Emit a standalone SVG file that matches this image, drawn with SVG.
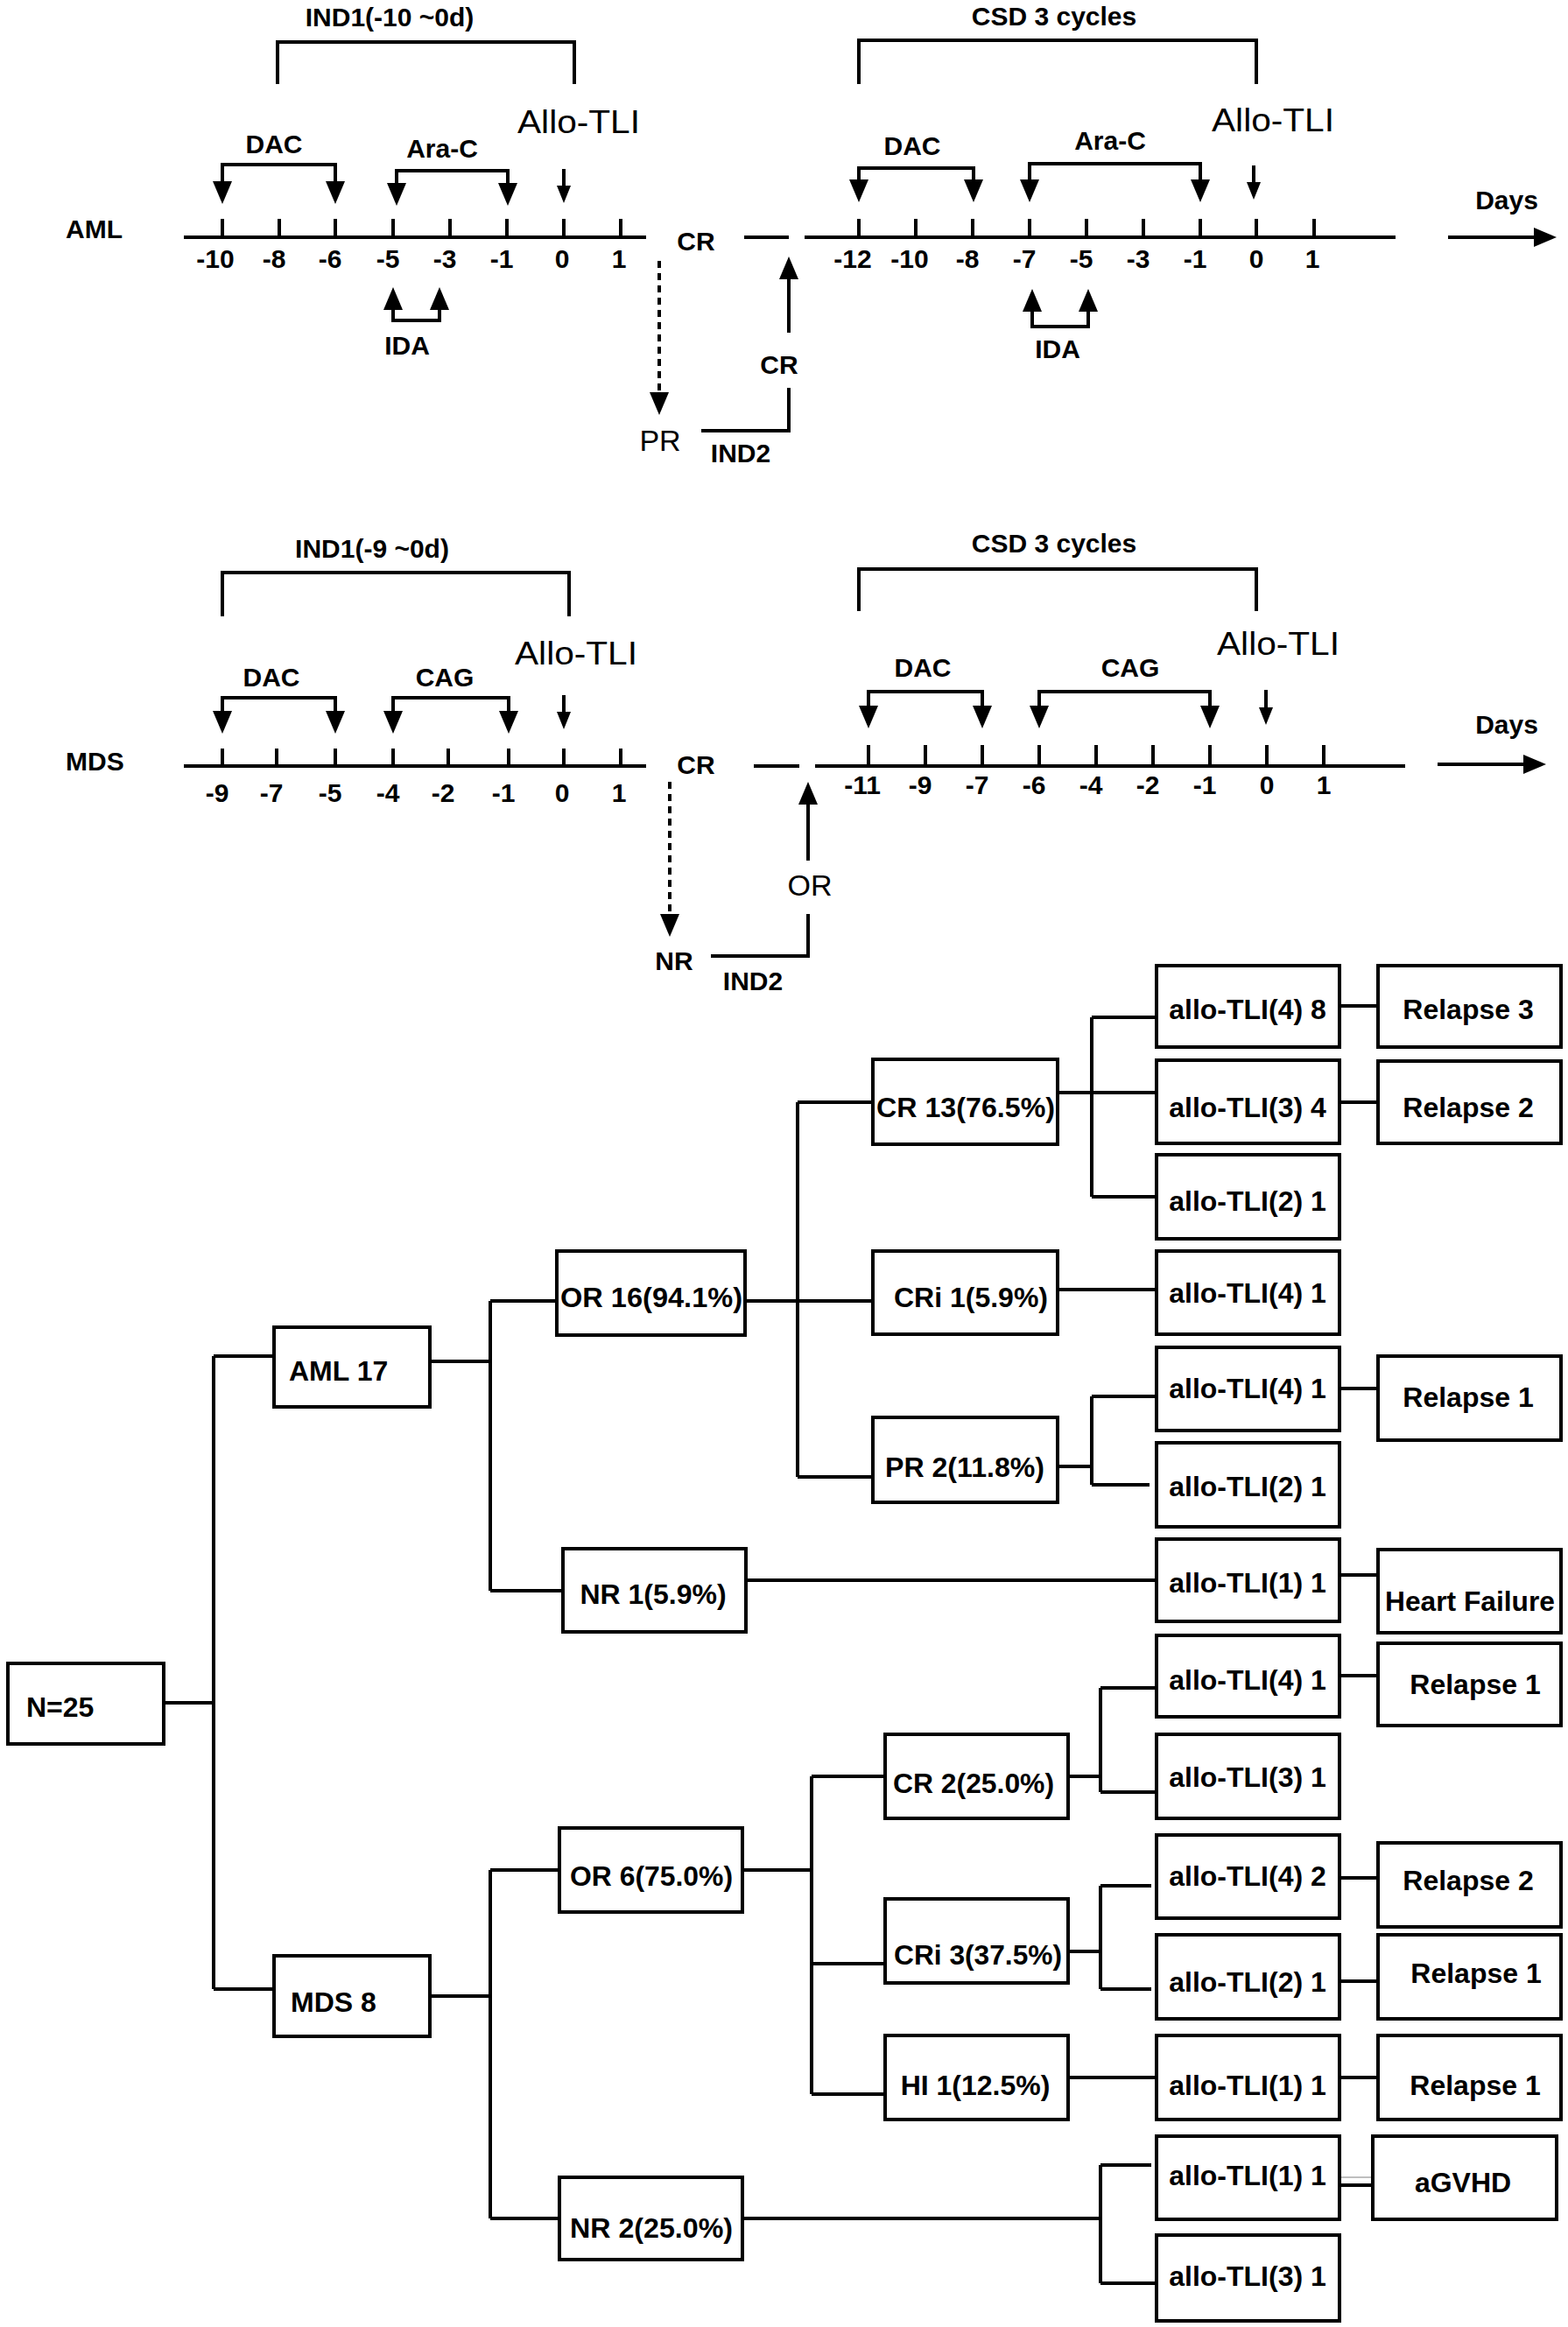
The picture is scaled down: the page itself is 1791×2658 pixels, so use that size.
<svg xmlns="http://www.w3.org/2000/svg" width="1791" height="2658" viewBox="0 0 1791 2658">
<style>
.t{font-family:"Liberation Sans",Arial,sans-serif;font-weight:bold;font-size:30px;fill:#000}
.m{text-anchor:middle}
.r{font-family:"Liberation Sans",Arial,sans-serif;font-weight:normal;font-size:36px;fill:#000;text-anchor:middle}
.bt{font-family:"Liberation Sans",Arial,sans-serif;font-weight:bold;font-size:32px;fill:#000;text-anchor:middle}
.ln{fill:none;stroke:#000;stroke-width:4}
.dot{fill:none;stroke:#000;stroke-width:4;stroke-dasharray:8 6}
.box{fill:#fff;stroke:#000;stroke-width:4}
</style>
<defs>
<marker id="arr" markerUnits="userSpaceOnUse" markerWidth="27" markerHeight="22" refX="0" refY="11" orient="auto-start-reverse"><path d="M0,0 L26,11 L0,22 z" fill="#000"/></marker>
<marker id="arrs" markerUnits="userSpaceOnUse" markerWidth="21" markerHeight="16" refX="0" refY="8" orient="auto"><path d="M0,0 L20,8 L0,16 z" fill="#000"/></marker>
</defs>

<g id="timeline-aml">
<text class="t m" x="445" y="30">IND1(-10 ~0d)</text>
<path class="ln" d="M317,96 V48 H656 V96"/>
<text class="t" x="75" y="272">AML</text>
<text class="t m" x="313" y="175">DAC</text>
<path class="ln" d="M254,207 V188 H383 V207" marker-start="url(#arr)" marker-end="url(#arr)"/>
<text class="t m" x="505" y="180">Ara-C</text>
<path class="ln" d="M453,209 V195 H580 V209" marker-start="url(#arr)" marker-end="url(#arr)"/>
<text class="r" x="661" y="152" textLength="140" lengthAdjust="spacingAndGlyphs">Allo-TLI</text>
<path class="ln" d="M644,193 V212" marker-end="url(#arrs)"/>
<path class="ln" d="M210,271 H738 M254,250 V271 M319,250 V271 M383,250 V271 M449,250 V271 M514,250 V271 M579,250 V271 M644,250 V271 M709,250 V271"/>
<g class="t m">
<text x="246" y="306">-10</text><text x="313" y="306">-8</text><text x="377" y="306">-6</text><text x="443" y="306">-5</text><text x="508" y="306">-3</text><text x="573" y="306">-1</text><text x="642" y="306">0</text><text x="707" y="306">1</text>
</g>
<path class="ln" d="M449,354 V366 H502 V354" marker-start="url(#arr)" marker-end="url(#arr)"/>
<text class="t m" x="465" y="405">IDA</text>
<text class="t m" x="795" y="286">CR</text>
<path class="dot" d="M753,298 V448" marker-end="url(#arr)"/>
<text class="r" x="754" y="515" style="font-size:34px">PR</text>
<path class="ln" d="M801,492 H901 V443"/>
<text class="t m" x="846" y="528">IND2</text>
<text class="t m" x="890" y="427">CR</text>
<path class="ln" d="M901,380 V319" marker-end="url(#arr)"/>
<path class="ln" d="M850,271 H901"/>
<text class="t m" x="1204" y="29">CSD 3 cycles</text>
<path class="ln" d="M981,96 V46 H1435 V96"/>
<text class="t m" x="1042" y="177">DAC</text>
<path class="ln" d="M981,205 V192 H1112 V205" marker-start="url(#arr)" marker-end="url(#arr)"/>
<text class="t m" x="1268" y="171">Ara-C</text>
<path class="ln" d="M1176,205 V187 H1371 V205" marker-start="url(#arr)" marker-end="url(#arr)"/>
<text class="r" x="1454" y="150" textLength="140" lengthAdjust="spacingAndGlyphs">Allo-TLI</text>
<path class="ln" d="M1432,189 V208" marker-end="url(#arrs)"/>
<path class="ln" d="M919,271 H1594 M981,250 V271 M1046,250 V271 M1111,250 V271 M1176,250 V271 M1241,250 V271 M1306,250 V271 M1371,250 V271 M1435,250 V271 M1501,250 V271"/>
<g class="t m">
<text x="974" y="306">-12</text><text x="1039" y="306">-10</text><text x="1105" y="306">-8</text><text x="1170" y="306">-7</text><text x="1235" y="306">-5</text><text x="1300" y="306">-3</text><text x="1365" y="306">-1</text><text x="1435" y="306">0</text><text x="1499" y="306">1</text>
</g>
<path class="ln" d="M1179,356 V373 H1243 V356" marker-start="url(#arr)" marker-end="url(#arr)"/>
<text class="t m" x="1208" y="409">IDA</text>
<text class="t m" x="1721" y="239">Days</text>
<path class="ln" d="M1654,271 H1752" marker-end="url(#arr)"/>
</g>

<g id="timeline-mds">
<text class="t m" x="425" y="637">IND1(-9 ~0d)</text>
<path class="ln" d="M254,704 V654 H650 V704"/>
<text class="t" x="75" y="880">MDS</text>
<text class="t m" x="310" y="784">DAC</text>
<path class="ln" d="M254,812 V797 H383 V812" marker-start="url(#arr)" marker-end="url(#arr)"/>
<text class="t m" x="508" y="784">CAG</text>
<path class="ln" d="M449,812 V797 H581 V812" marker-start="url(#arr)" marker-end="url(#arr)"/>
<text class="r" x="658" y="759" textLength="140" lengthAdjust="spacingAndGlyphs">Allo-TLI</text>
<path class="ln" d="M644,794 V813" marker-end="url(#arrs)"/>
<path class="ln" d="M210,875 H738 M254,855 V875 M316,855 V875 M383,855 V875 M449,855 V875 M512,855 V875 M581,855 V875 M644,855 V875 M709,855 V875"/>
<g class="t m">
<text x="248" y="916">-9</text><text x="310" y="916">-7</text><text x="377" y="916">-5</text><text x="443" y="916">-4</text><text x="506" y="916">-2</text><text x="575" y="916">-1</text><text x="642" y="916">0</text><text x="707" y="916">1</text>
</g>
<text class="t m" x="795" y="884">CR</text>
<path class="dot" d="M765,893 V1044" marker-end="url(#arr)"/>
<text class="t m" x="770" y="1108">NR</text>
<path class="ln" d="M812,1092 H923 V1044"/>
<text class="t m" x="860" y="1131">IND2</text>
<text class="r" x="925" y="1023" style="font-size:34px">OR</text>
<path class="ln" d="M923,983 V919" marker-end="url(#arr)"/>
<path class="ln" d="M861,875 H913"/>
<text class="t m" x="1204" y="631">CSD 3 cycles</text>
<path class="ln" d="M981,698 V650 H1435 V698"/>
<text class="t m" x="1054" y="773">DAC</text>
<path class="ln" d="M992,806 V790 H1122 V806" marker-start="url(#arr)" marker-end="url(#arr)"/>
<text class="t m" x="1291" y="773">CAG</text>
<path class="ln" d="M1187,806 V790 H1382 V806" marker-start="url(#arr)" marker-end="url(#arr)"/>
<text class="r" x="1460" y="748" textLength="140" lengthAdjust="spacingAndGlyphs">Allo-TLI</text>
<path class="ln" d="M1446,788 V808" marker-end="url(#arrs)"/>
<path class="ln" d="M931,875 H1605 M992,851 V875 M1057,851 V875 M1122,851 V875 M1187,851 V875 M1252,851 V875 M1317,851 V875 M1382,851 V875 M1447,851 V875 M1512,851 V875"/>
<g class="t m">
<text x="985" y="907">-11</text><text x="1051" y="907">-9</text><text x="1116" y="907">-7</text><text x="1181" y="907">-6</text><text x="1246" y="907">-4</text><text x="1311" y="907">-2</text><text x="1376" y="907">-1</text><text x="1447" y="907">0</text><text x="1512" y="907">1</text>
</g>
<text class="t m" x="1721" y="838">Days</text>
<path class="ln" d="M1642,873 H1740" marker-end="url(#arr)"/>
</g>

<g id="connectors">
<path class="ln" d="M187,1945 H244 M244,1549 V2272 M244,1549 H313 M244,2272 H313"/>
<path class="ln" d="M491,1555 H560 M560,1486 V1817 M560,1486 H636 M560,1817 H643"/>
<path class="ln" d="M491,2280 H560 M560,2136 V2534 M560,2136 H639 M560,2534 H639"/>
<path class="ln" d="M851,1486 H997 M911,1259 V1687 M911,1259 H997 M911,1687 H997"/>
<path class="ln" d="M1208,1248 H1321 M1247,1162 V1367 M1247,1162 H1321 M1247,1367 H1321"/>
<path class="ln" d="M1208,1473 H1321"/>
<path class="ln" d="M1208,1675 H1247 M1247,1595 V1696 M1247,1595 H1321 M1247,1696 H1313"/>
<path class="ln" d="M852,1805 H1321"/>
<path class="ln" d="M1530,1149 H1574 M1530,1259 H1574 M1530,1586 H1574 M1530,1799 H1574"/>
<path class="ln" d="M848,2136 H927 M927,2029 V2392 M927,2029 H1011 M927,2243 H1011 M927,2392 H1011"/>
<path class="ln" d="M1220,2029 H1257 M1257,1928 V2047 M1257,1928 H1321 M1257,2047 H1321"/>
<path class="ln" d="M1220,2229 H1257 M1257,2154 V2272 M1257,2154 H1315 M1257,2272 H1315"/>
<path class="ln" d="M1220,2373 H1321"/>
<path class="ln" d="M1530,1914 H1574 M1530,2145 H1574 M1530,2263 H1574 M1530,2373 H1574 M1519,2496 H1568"/>
<path d="M1532,2487 H1573" fill="none" stroke="#aaa" stroke-width="1.5"/>
<path class="ln" d="M848,2534 H1257 M1257,2473 V2608 M1257,2473 H1315 M1257,2608 H1321"/>
</g>

<g id="n25"><rect class="box" x="9" y="1900" width="178" height="92"/><text class="bt" x="30" y="1961" style="text-anchor:start">N=25</text></g>
<g id="aml17"><rect class="box" x="313" y="1516" width="178" height="91"/><text class="bt" x="330" y="1577" style="text-anchor:start">AML 17</text></g>
<g id="mds8"><rect class="box" x="313" y="2234" width="178" height="92"/><text class="bt" x="332" y="2298" style="text-anchor:start">MDS 8</text></g>
<g id="or16"><rect class="box" x="636" y="1429" width="215" height="96"/><text class="bt" x="744" y="1493" textLength="208" lengthAdjust="spacingAndGlyphs">OR 16(94.1%)</text></g>
<g id="nr1"><rect class="box" x="643" y="1769" width="209" height="95"/><text class="bt" x="746" y="1832">NR 1(5.9%)</text></g>
<g id="or6"><rect class="box" x="639" y="2088" width="209" height="96"/><text class="bt" x="744" y="2154" textLength="186" lengthAdjust="spacingAndGlyphs">OR 6(75.0%)</text></g>
<g id="nr2"><rect class="box" x="639" y="2487" width="209" height="94"/><text class="bt" x="744" y="2556" textLength="186" lengthAdjust="spacingAndGlyphs">NR 2(25.0%)</text></g>
<g id="cr13"><rect class="box" x="997" y="1210" width="211" height="97"/><text class="bt" x="1103" y="1276" textLength="204" lengthAdjust="spacingAndGlyphs">CR 13(76.5%)</text></g>
<g id="cri1"><rect class="box" x="997" y="1429" width="211" height="95"/><text class="bt" x="1109" y="1493">CRi 1(5.9%)</text></g>
<g id="pr2"><rect class="box" x="997" y="1619" width="211" height="97"/><text class="bt" x="1102" y="1687" textLength="182" lengthAdjust="spacingAndGlyphs">PR 2(11.8%)</text></g>
<g id="cr2"><rect class="box" x="1011" y="1981" width="209" height="96"/><text class="bt" x="1112" y="2048" textLength="184" lengthAdjust="spacingAndGlyphs">CR 2(25.0%)</text></g>
<g id="cri3"><rect class="box" x="1011" y="2169" width="209" height="96"/><text class="bt" x="1117" y="2244" textLength="192" lengthAdjust="spacingAndGlyphs">CRi 3(37.5%)</text></g>
<g id="hi1"><rect class="box" x="1011" y="2325" width="209" height="96"/><text class="bt" x="1114" y="2393">HI 1(12.5%)</text></g>

<g id="a1"><rect class="box" x="1321" y="1103" width="209" height="93"/><text class="bt" x="1425" y="1164">allo-TLI(4) 8</text></g>
<g id="a2"><rect class="box" x="1321" y="1211" width="209" height="95"/><text class="bt" x="1425" y="1276">allo-TLI(3) 4</text></g>
<g id="a3"><rect class="box" x="1321" y="1319" width="209" height="96"/><text class="bt" x="1425" y="1383">allo-TLI(2) 1</text></g>
<g id="a4"><rect class="box" x="1321" y="1429" width="209" height="95"/><text class="bt" x="1425" y="1488">allo-TLI(4) 1</text></g>
<g id="a5"><rect class="box" x="1321" y="1539" width="209" height="95"/><text class="bt" x="1425" y="1597">allo-TLI(4) 1</text></g>
<g id="a6"><rect class="box" x="1321" y="1648" width="209" height="96"/><text class="bt" x="1425" y="1709">allo-TLI(2) 1</text></g>
<g id="a7"><rect class="box" x="1321" y="1758" width="209" height="94"/><text class="bt" x="1425" y="1819">allo-TLI(1) 1</text></g>
<g id="a8"><rect class="box" x="1321" y="1868" width="209" height="93"/><text class="bt" x="1425" y="1930">allo-TLI(4) 1</text></g>
<g id="a9"><rect class="box" x="1321" y="1981" width="209" height="96"/><text class="bt" x="1425" y="2041">allo-TLI(3) 1</text></g>
<g id="a10"><rect class="box" x="1321" y="2096" width="209" height="95"/><text class="bt" x="1425" y="2154">allo-TLI(4) 2</text></g>
<g id="a11"><rect class="box" x="1321" y="2210" width="209" height="96"/><text class="bt" x="1425" y="2275">allo-TLI(2) 1</text></g>
<g id="a12"><rect class="box" x="1321" y="2325" width="209" height="96"/><text class="bt" x="1425" y="2393">allo-TLI(1) 1</text></g>
<g id="a13"><rect class="box" x="1321" y="2440" width="209" height="95"/><text class="bt" x="1425" y="2496">allo-TLI(1) 1</text></g>
<g id="a14"><rect class="box" x="1321" y="2553" width="209" height="98"/><text class="bt" x="1425" y="2611">allo-TLI(3) 1</text></g>

<g id="r1"><rect class="box" x="1574" y="1103" width="209" height="93"/><text class="bt" x="1677" y="1164">Relapse 3</text></g>
<g id="r2"><rect class="box" x="1574" y="1212" width="209" height="94"/><text class="bt" x="1677" y="1276">Relapse 2</text></g>
<g id="r3"><rect class="box" x="1574" y="1549" width="209" height="96"/><text class="bt" x="1677" y="1607">Relapse 1</text></g>
<g id="r4"><rect class="box" x="1574" y="1770" width="209" height="95"/><text class="bt" x="1679" y="1840" textLength="194" lengthAdjust="spacingAndGlyphs">Heart Failure</text></g>
<g id="r5"><rect class="box" x="1574" y="1877" width="209" height="94"/><text class="bt" x="1685" y="1935">Relapse 1</text></g>
<g id="r6"><rect class="box" x="1574" y="2105" width="209" height="96"/><text class="bt" x="1677" y="2159">Relapse 2</text></g>
<g id="r7"><rect class="box" x="1574" y="2210" width="209" height="96"/><text class="bt" x="1686" y="2265">Relapse 1</text></g>
<g id="r8"><rect class="box" x="1574" y="2325" width="209" height="96"/><text class="bt" x="1685" y="2393">Relapse 1</text></g>
<g id="agvhd"><rect class="box" x="1568" y="2440" width="210" height="95"/><text class="bt" x="1671" y="2504">aGVHD</text></g>
</svg>
